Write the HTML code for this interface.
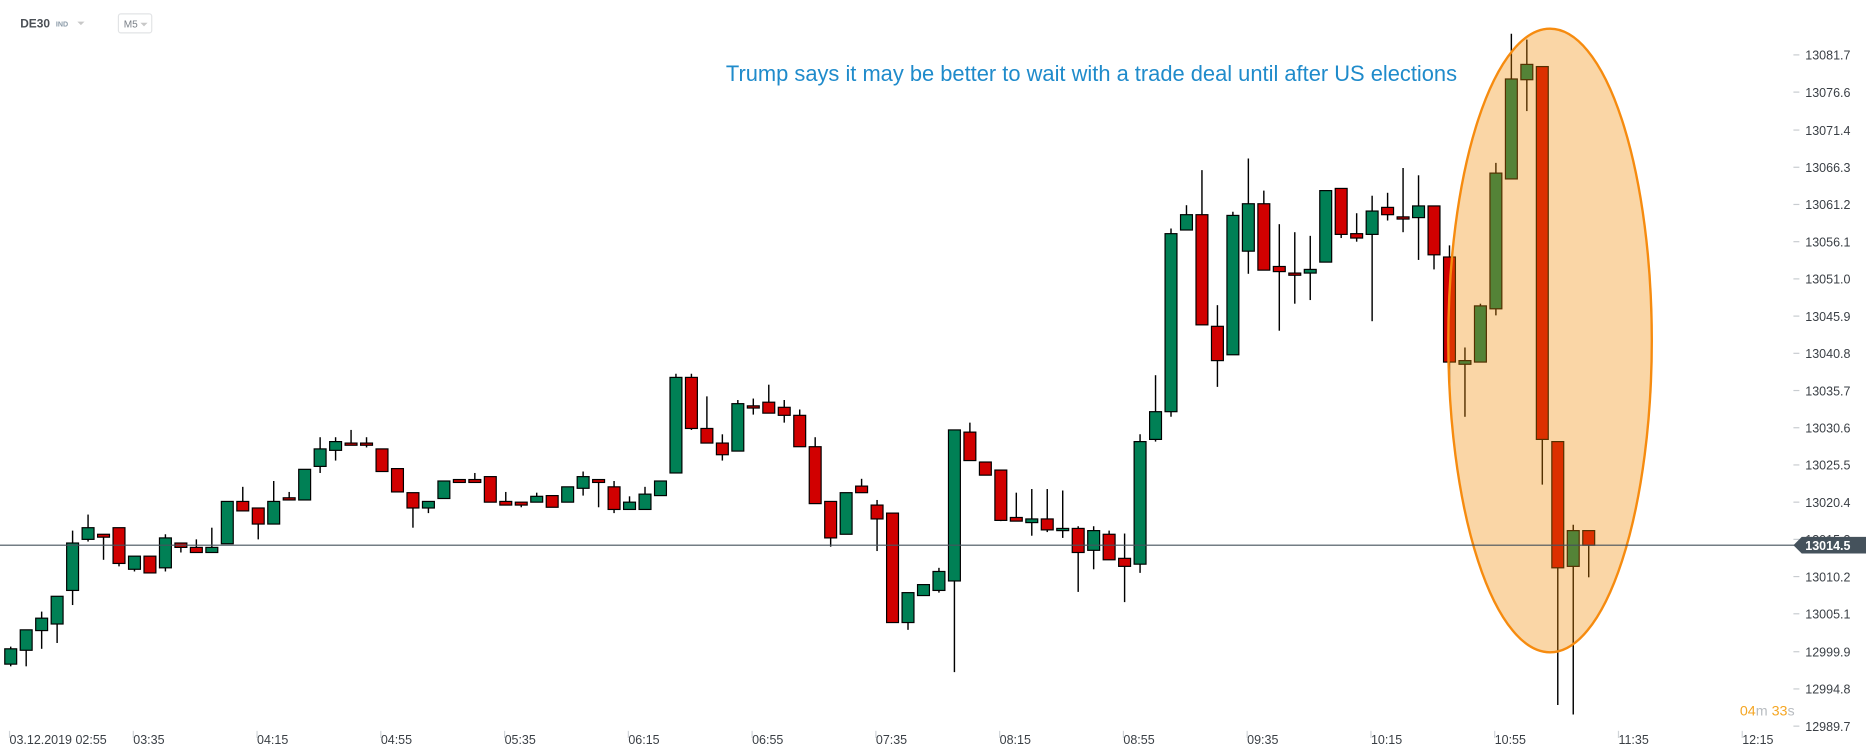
<!DOCTYPE html>
<html><head><meta charset="utf-8"><style>
html,body{margin:0;padding:0;background:#fff;width:1866px;height:756px;overflow:hidden}
svg{display:block;font-family:"Liberation Sans",sans-serif}
</style></head><body>
<svg id="chart" width="1866" height="756" viewBox="0 0 1568 635" xmlns="http://www.w3.org/2000/svg">
<g>
<text x="17" y="23" font-size="10" font-weight="bold" fill="#4a4f55">DE30</text>
<text x="47" y="22" font-size="6" fill="#8a9aa8" font-weight="bold">IND</text>
<path d="M65,18 L71,18 L68,21 Z" fill="#c8c8c8"/>
<rect x="99.5" y="11.5" width="28" height="16" rx="2" fill="#fff" stroke="#e2e4e6"/>
<text x="104" y="23" font-size="8.5" fill="#7a8088">M5</text>
<path d="M118,19 L124,19 L121,22 Z" fill="#c8c8c8"/>
</g>
<text x="610" y="68" font-size="18.4" fill="#1f8bcb">Trump says it may be better to wait with a trade deal until after US elections</text>
<g id="xaxis"></g>
<g id="yaxis"></g>
<g id="candles"></g>
<ellipse cx="1302.5" cy="286" rx="85.5" ry="262" fill="#f08a00" fill-opacity="0.35" stroke="#f68b0f" stroke-width="2"/>
<g id="priceline"></g>
<text x="1462" y="601" font-size="12" fill="#f5a623">04<tspan fill="#b8bcc0">m</tspan> 33<tspan fill="#b8bcc0">s</tspan></text>
</svg>
<script>
const opens=[12998.2,13000.1,13002.8,13003.7,13008.3,13015.3,13016.0,13016.9,13011.2,13013.0,13011.4,13014.8,13014.2,13013.5,13014.7,13020.5,13019.6,13017.4,13021.0,13020.7,13025.3,13027.5,13028.5,13028.5,13027.7,13025.0,13021.7,13019.6,13020.9,13023.5,13023.5,13023.9,13020.5,13020.4,13020.4,13021.3,13020.4,13022.3,13023.5,13022.5,13019.4,13019.4,13021.3,13024.4,13037.5,13030.5,13028.5,13027.4,13033.6,13034.1,13033.4,13032.3,13028.0,13020.5,13016.0,13022.6,13020.0,13018.9,13003.9,13007.6,13008.3,13009.6,13030.0,13025.9,13024.8,13018.3,13017.6,13018.1,13016.5,13016.8,13013.8,13016.0,13012.7,13011.9,13029.0,13032.8,13057.7,13059.8,13044.5,13040.6,13054.8,13061.3,13052.7,13051.8,13051.8,13053.3,13063.4,13057.2,13057.1,13060.8,13059.5,13059.4,13061.0,13054.0,13039.3,13039.6,13046.9,13064.7,13078.3,13080.1,13028.7,13011.6,13016.5];
const highs=[13000.6,13002.9,13005.4,13007.5,13016.5,13018.7,13016.0,13016.9,13013.0,13013.0,13016.0,13014.8,13015.3,13016.9,13020.5,13022.5,13019.6,13023.3,13021.8,13024.9,13029.3,13029.3,13030.3,13029.3,13027.7,13025.0,13021.7,13020.5,13023.3,13023.5,13024.4,13023.9,13021.8,13020.4,13021.7,13021.3,13022.5,13024.6,13023.5,13023.3,13021.2,13022.5,13023.3,13038.0,13038.0,13034.9,13029.7,13034.4,13034.6,13036.5,13034.4,13033.1,13029.3,13020.5,13021.7,13023.6,13020.7,13018.9,13008.0,13009.1,13011.4,13030.3,13031.3,13025.9,13024.8,13021.7,13022.2,13022.2,13022.0,13017.1,13017.1,13016.5,13016.1,13029.7,13037.8,13057.9,13061.1,13065.9,13047.4,13060.2,13067.5,13063.1,13058.5,13057.4,13056.9,13063.1,13063.4,13060.0,13062.4,13062.8,13066.2,13065.2,13061.0,13055.6,13041.6,13047.6,13066.9,13084.6,13083.8,13080.1,13028.7,13017.3,13016.5];
const lows=[12997.9,12997.9,13000.3,13001.1,13006.3,13015.0,13012.5,13011.6,13010.9,13010.7,13010.9,13013.5,13013.5,13013.5,13014.7,13019.2,13015.3,13017.4,13020.7,13020.7,13024.4,13026.1,13028.2,13027.9,13024.6,13021.8,13016.9,13018.9,13020.9,13023.1,13023.1,13020.4,13020.0,13019.7,13020.4,13019.7,13020.4,13021.3,13019.7,13018.9,13019.4,13019.4,13021.3,13024.4,13030.3,13028.5,13026.1,13027.4,13032.4,13032.6,13031.3,13028.0,13020.2,13014.3,13016.0,13021.7,13013.7,13003.9,13002.9,13007.6,13008.0,12997.1,13026.1,13024.1,13017.8,13017.8,13015.8,13016.3,13015.5,13008.1,13011.2,13012.5,13006.7,13010.7,13028.7,13032.1,13057.7,13044.7,13036.2,13040.6,13051.7,13052.2,13043.9,13047.6,13048.1,13053.3,13056.6,13056.1,13045.2,13059.0,13057.4,13053.6,13052.3,13036.7,13032.1,13039.6,13046.0,13064.7,13074.0,13022.8,12992.6,12991.3,13010.1];
const closes=[13000.3,13002.9,13004.5,13007.5,13014.8,13016.9,13015.6,13012.0,13013.0,13010.7,13015.5,13014.2,13013.5,13014.2,13020.5,13019.2,13017.4,13020.5,13020.7,13024.9,13027.7,13028.7,13028.2,13028.2,13024.6,13021.8,13019.6,13020.5,13023.3,13023.1,13023.1,13020.4,13020.0,13020.0,13021.2,13019.7,13022.5,13023.9,13023.1,13019.4,13020.4,13021.5,13023.3,13037.5,13030.5,13028.5,13026.9,13033.9,13033.3,13032.6,13032.3,13028.0,13020.2,13015.5,13021.7,13021.7,13018.1,13003.9,13008.0,13009.1,13010.9,13030.3,13026.1,13024.1,13017.9,13017.8,13018.1,13016.6,13016.8,13013.5,13016.5,13012.5,13011.6,13028.7,13032.8,13057.2,13059.8,13044.7,13039.8,13059.7,13061.3,13052.2,13052.0,13051.5,13052.3,13063.1,13057.1,13056.6,13060.3,13059.8,13059.2,13061.0,13054.3,13039.6,13039.8,13047.3,13065.5,13078.4,13080.4,13029.0,13011.4,13016.5,13014.5];
const yTickLabels=["13081.7","13076.6","13071.4","13066.3","13061.2","13056.1","13051.0","13045.9","13040.8","13035.7","13030.6","13025.5","13020.4","13015.3","13010.2","13005.1","12999.9","12994.8","12989.7"];
const xTickLabels=["03.12.2019  02:55","03:35","04:15","04:55","05:35","06:15","06:55","07:35","08:15","08:55","09:35","10:15","10:55","11:35","12:15"];
const xTickIndex=[0,8,16,24,32,40,48,56,64,72,80,88,96,104,112];
const NS="http://www.w3.org/2000/svg";
function y(p){return 46+(13081.7-p)*6.131;}
function x(i){return 9+i*13.0;}
function mk(t,a,parent){const e=document.createElementNS(NS,t);for(const k in a)e.setAttribute(k,a[k]);parent.appendChild(e);return e;}
const ya=document.getElementById('yaxis');
yTickLabels.forEach(function(l){
  const yy=y(parseFloat(l));
  const tk=mk('line',{x1:1507,x2:1512,y1:yy,y2:yy,stroke:'#c8ccd0'},ya);
  
  
  const t=mk('text',{x:1517,y:yy+4,'font-size':10.5,fill:'#3a3f45'},ya);
  
  
  t.textContent=l;
});
const xa=document.getElementById('xaxis');
xTickLabels.forEach(function(l,k){
  const xx=x(xTickIndex[k])-1;
  const tk=mk('line',{x1:xx,x2:xx,y1:614,y2:620,stroke:'#d0d4d8'},xa);
  
  
  const t=mk('text',{x:xx,y:625,'font-size':10.5,fill:'#3a3f45','xml:space':'preserve'},xa);
  
  
  t.textContent=l;
});
const cg=document.getElementById('candles');
for(let i=0;i<opens.length;i++){
  const up=closes[i]>=opens[i];
  const cx=x(i);
  const g=mk('g',{},cg);
  
  
  mk('line',{x1:cx,x2:cx,y1:y(highs[i]),y2:y(lows[i]),stroke:'#000','stroke-width':1.2},g);
  const top=y(Math.max(opens[i],closes[i])),bot=y(Math.min(opens[i],closes[i]));
  mk('rect',{x:cx-5,y:top,width:10,height:Math.max(bot-top,1.5),fill:up?'#008055':'#d10000',stroke:'#000','stroke-width':1},g);
}
const pl=document.getElementById('priceline');
const last=closes[closes.length-1];const py=y(last);
const ln=mk('line',{x1:0,x2:1510,y1:py,y2:py,stroke:'#45525c','stroke-width':1},pl);


const tag=mk('path',{d:'M1507,'+py+' L1514,'+(py-7)+' L1568,'+(py-7)+' L1568,'+(py+7)+' L1514,'+(py+7)+' Z',fill:'#45525c'},pl);


const tt=mk('text',{x:1517,y:py+4,'font-size':10.5,'font-weight':'bold',fill:'#fff'},pl);


tt.textContent=last.toFixed(1);
</script>
</body></html>
